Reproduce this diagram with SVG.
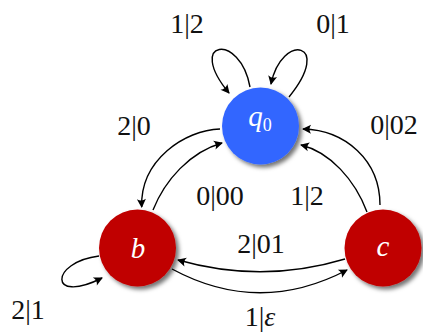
<svg xmlns="http://www.w3.org/2000/svg" width="423" height="332" viewBox="0 0 423 332">
<style>
.lbl{font-family:"Liberation Serif","DejaVu Serif",serif;font-size:28px;fill:#111;text-anchor:middle}
.nl{font-family:"Liberation Serif","DejaVu Serif",serif;font-size:29px;font-style:italic;fill:#fff;text-anchor:middle}
.e{fill:none;stroke:#000;stroke-width:1.4;marker-end:url(#arr)}
</style>
<defs>
<filter id="sh" x="-30%" y="-30%" width="170%" height="170%">
<feGaussianBlur in="SourceAlpha" stdDeviation="2"/>
<feOffset dx="3" dy="3" result="b"/>
<feFlood flood-color="#000" flood-opacity="0.55"/>
<feComposite in2="b" operator="in"/>
<feMerge><feMergeNode/><feMergeNode in="SourceGraphic"/></feMerge>
</filter>
<marker id="arr" viewBox="-10 -6 12 12" refX="0" refY="0" markerWidth="12" markerHeight="12" markerUnits="userSpaceOnUse" orient="auto">
<path d="M1,0 L-8,-4.5 Q-5,0 -8,4.5 Z" fill="#000"/>
</marker>
</defs>
<g id="connectors">
<path class="e" d="M250,87 C240,32 185,40 229,93"/>
<path class="e" d="M289,97 C334,42 282,32 271,84"/>
<path class="e" d="M220,129 C185,130 140,160 141.7,207"/>
<path class="e" d="M153,210 C165,180 190,152 222,143"/>
<path class="e" d="M380,205 C380,160 345,130 303,129"/>
<path class="e" d="M367,212 C355,180 330,152 301,145"/>
<path class="e" d="M345,259 Q262,284 178,260"/>
<path class="e" d="M172,269 Q259,316 347,270"/>
<path class="e" d="M99,256 C50,262 48,305 102,278"/>
</g>
<g id="labels">
<text class="lbl" x="187" y="33">1|2</text>
<text class="lbl" x="333" y="33">0|1</text>
<text class="lbl" x="134" y="135">2|0</text>
<text class="lbl" x="394" y="134">0|02</text>
<text class="lbl" x="220" y="205">0|00</text>
<text class="lbl" x="307" y="205">1|2</text>
<text class="lbl" x="261" y="253">2|01</text>
<text class="lbl" x="28" y="319">2|1</text>
<text class="lbl" x="260" y="326">1|<tspan font-style="italic">ε</tspan></text>
</g>
<g id="q0">
<circle cx="260.5" cy="126" r="38.5" fill="#3366FF" filter="url(#sh)"/>
<text class="nl" x="260" y="126">q<tspan font-size="18" dy="5" font-style="normal">0</tspan></text>
</g>
<g id="b">
<circle cx="137.5" cy="248" r="38.5" fill="#C00000" filter="url(#sh)"/>
<text class="nl" x="138" y="258">b</text>
</g>
<g id="c">
<circle cx="383" cy="248" r="38.5" fill="#C00000" filter="url(#sh)"/>
<text class="nl" x="383" y="256">c</text>
</g>
</svg>
